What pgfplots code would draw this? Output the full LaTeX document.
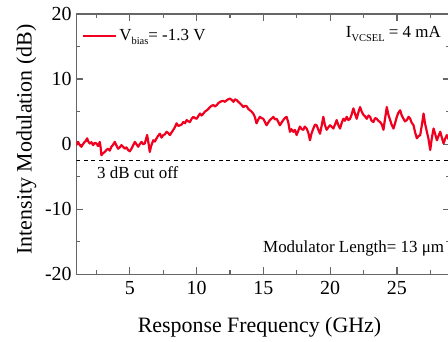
\documentclass[border=0pt]{standalone}
\usepackage{pgfplots}
\pgfplotsset{compat=1.18}
\usepackage{fontspec}
\setmainfont{Liberation Serif}
\newcommand\sub[1]{\raisebox{-3.5bp}{\fontsize{10.5}{10.5}\selectfont #1}}
\begin{document}
\begin{tikzpicture}
\begin{axis}[
  scale only axis, width=374.1bp, height=260.3bp,
  xmin=1, xmax=29, ymin=-20, ymax=20,
  xtick={5,10,...,25}, minor xtick={2.5,7.5,...,27.5},
  ytick={-20,-10,...,20}, minor ytick={-15,-5,5,15},
  tick align=inside,
  major tick length=7bp, minor tick length=4bp,
  axis line style={black!60, line width=1.4bp},
  every tick/.style={black!60, line width=1.2bp},
  ticklabel style={font=\fontsize{20}{20}\selectfont, text=black},
  /pgf/number format/assume math mode=true,
  xticklabel style={anchor=base, yshift=-19.7bp, inner sep=0pt},
  yticklabel style={anchor=east, xshift=-4.5bp, inner sep=0pt},
  xlabel={Response Frequency (GHz)},
  ylabel={Intensity Modulation (dB)},
  label style={font=\fontsize{22}{22}\selectfont},
  xlabel style={at={(axis description cs:0.4897,-0.2255)}, anchor=base, inner sep=0pt},
  ylabel style={at={(axis description cs:-0.1192,0.5179)}, anchor=base, inner sep=0pt},
  legend style={draw=none, fill=none, inner sep=0pt, at={(axis description cs:0.0152,0.9155)}, anchor=west, font=\fontsize{17}{17}\selectfont},
  legend image code/.code={\draw[#1] (0bp,0bp) -- (33bp,0bp);},
  clip=true,
]
\addplot[color={rgb,255:red,240;green,0;blue,30}, line width=2.2bp, line join=round] coordinates {
(1.0,-0.15) (1.06,0.1) (1.13,0.35) (1.25,-0.1) (1.38,-0.4) (1.5,0.0) (1.63,0.35) (1.72,0.5) (1.81,0.9) (1.9,0.4)
(2.01,0.1) (2.13,0.3) (2.26,-0.15) (2.38,0.2) (2.51,0.1) (2.63,-0.3) (2.76,0.35) (2.82,-0.5) (2.88,-1.7) (3.0,-1.4)
(3.13,-1.2) (3.25,-0.9) (3.38,-0.7) (3.5,-1.0) (3.63,-0.4) (3.75,-0.1) (3.88,0.35) (4.0,-0.2) (4.13,-0.7) (4.25,-0.5)
(4.38,-0.15) (4.5,-0.4) (4.63,-0.7) (4.75,-0.5) (4.88,-0.9) (5.0,-1.1) (5.13,-0.7) (5.25,-0.2) (5.38,0.35) (5.5,0.0)
(5.63,-0.4) (5.75,0.0) (5.88,0.35) (6.0,0.0) (6.13,0.1) (6.22,0.8) (6.3,1.4) (6.4,0.2) (6.5,-1.2) (6.6,-0.3)
(6.76,0.6) (6.88,0.4) (7.01,0.9) (7.13,1.3) (7.26,1.6) (7.38,1.0) (7.51,1.4) (7.63,1.5) (7.76,1.9) (7.88,1.7)
(8.01,1.4) (8.13,1.8) (8.26,2.2) (8.38,2.6) (8.51,3.2) (8.63,2.8) (8.76,2.9) (8.88,3.0) (9.01,3.4) (9.13,3.2)
(9.26,3.7) (9.38,3.5) (9.51,3.4) (9.63,3.9) (9.76,4.2) (9.88,4.0) (10.01,3.9) (10.13,4.3) (10.26,4.7) (10.38,4.4)
(10.51,4.7) (10.63,5.0) (10.76,5.2) (10.88,5.4) (11.01,5.7) (11.13,5.9) (11.26,6.0) (11.38,5.8) (11.51,6.0) (11.63,6.3)
(11.76,6.5) (11.88,6.6) (12.01,6.65) (12.13,6.5) (12.26,6.75) (12.38,6.9) (12.51,7.0) (12.63,6.8) (12.76,6.5) (12.88,6.9)
(13.01,6.75) (13.13,6.5) (13.26,6.25) (13.38,6.0) (13.51,5.7) (13.63,5.9) (13.76,5.8) (13.88,5.4) (14.0,5.2) (14.12,5.0)
(14.24,4.7) (14.36,4.2) (14.49,3.2) (14.6,3.7) (14.74,4.2) (14.87,4.0) (14.99,3.9) (15.1,3.5) (15.24,2.9) (15.36,3.3)
(15.49,3.7) (15.6,3.9) (15.74,4.2) (15.87,3.8) (15.99,3.9) (16.1,3.5) (16.24,2.9) (16.36,3.3) (16.49,3.7) (16.6,4.0)
(16.74,4.2) (16.87,3.3) (16.99,1.9) (17.1,2.3) (17.24,1.9) (17.36,2.2) (17.49,1.4) (17.6,2.0) (17.74,2.7) (17.87,2.3)
(17.99,2.2) (18.1,2.7) (18.24,2.4) (18.36,1.8) (18.49,0.6) (18.6,1.6) (18.74,2.4) (18.87,3.0) (18.99,2.9) (19.1,2.3)
(19.24,1.6) (19.36,2.8) (19.49,4.2) (19.6,3.0) (19.74,2.2) (19.87,2.6) (19.99,2.9) (20.1,2.7) (20.24,2.4) (20.36,3.0)
(20.49,3.7) (20.6,3.0) (20.74,2.4) (20.87,3.3) (20.99,3.9) (21.1,3.6) (21.24,4.2) (21.36,3.7) (21.49,3.9) (21.6,4.5)
(21.74,5.5) (21.87,4.6) (21.99,3.9) (22.1,4.8) (22.24,5.7) (22.36,5.0) (22.49,4.5) (22.6,4.3) (22.74,3.9) (22.87,4.4)
(22.99,4.2) (23.1,3.6) (23.24,3.4) (23.36,4.0) (23.49,3.9) (23.6,3.6) (23.74,3.4) (23.87,3.0) (23.99,2.2) (24.1,3.8)
(24.24,5.7) (24.36,4.5) (24.49,3.7) (24.6,3.0) (24.74,2.4) (24.87,3.3) (24.99,4.2) (25.1,4.8) (25.24,5.2) (25.36,4.4)
(25.49,3.9) (25.6,3.5) (25.74,3.7) (25.87,4.2) (25.99,3.9) (26.1,3.3) (26.24,2.9) (26.36,1.8) (26.49,0.9) (26.6,1.2)
(26.74,1.4) (26.87,3.0) (26.99,4.7) (27.1,3.2) (27.24,1.9) (27.36,0.8) (27.49,-0.9) (27.6,0.8) (27.74,2.4) (27.87,1.5)
(27.99,0.6) (28.1,1.2) (28.24,1.9) (28.36,1.0) (28.49,0.1) (28.6,0.8) (28.74,1.4) (28.85,0.8) (28.95,1.2)
};
\addlegendentry{V\sub{bias}= -1.3 V}
\addplot[black, line width=1bp, dash pattern=on 4bp off 3.5bp, forget plot] coordinates {(1,-2.5) (29,-2.5)};
\end{axis}
\node[anchor=base east, inner sep=0pt, font=\fontsize{17}{17}\selectfont] at (364.7bp,236.3bp) {I\sub{VCSEL} = 4 mA};
\node[anchor=base west, inner sep=0pt, font=\fontsize{17}{17}\selectfont] at (20.7bp,96bp) {3 dB cut off};
\node[anchor=base west, inner sep=0pt, font=\fontsize{17}{17}\selectfont] at (186.7bp,21.6bp) {Modulator Length= 13 μm};
\pgfresetboundingbox
\useasboundingbox (-76.3bp,-67.7bp) rectangle (371.7bp,274.3bp);
\end{tikzpicture}
\end{document}
